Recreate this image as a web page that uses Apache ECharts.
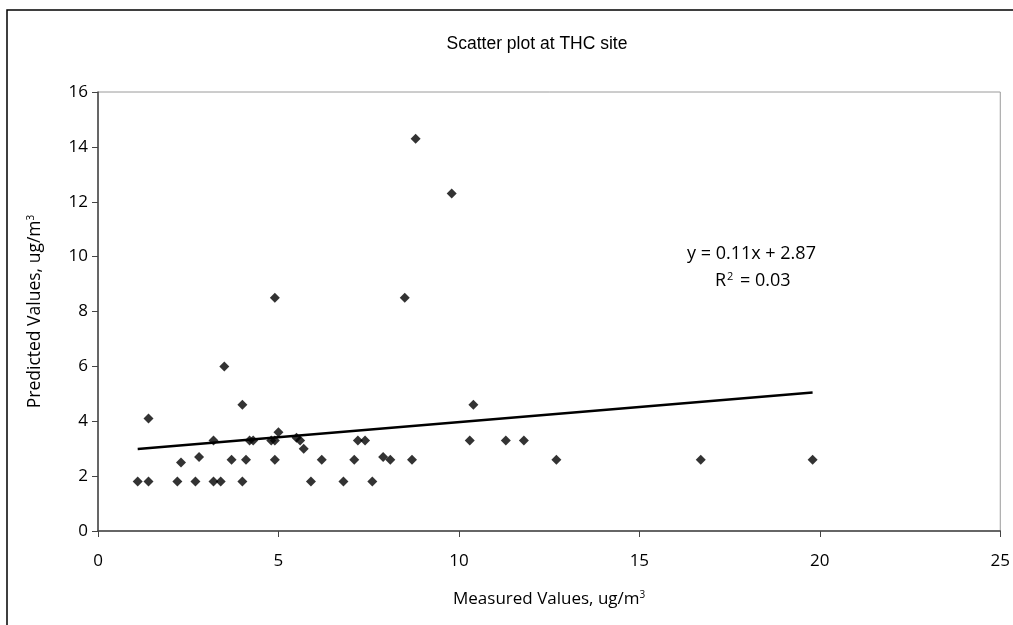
<!DOCTYPE html>
<html>
<head>
<meta charset="utf-8">
<title>Scatter plot at THC site</title>
<script src="https://cdn.jsdelivr.net/npm/echarts@6/dist/echarts.min.js"></script>
<style>
  html, body { margin: 0; padding: 0; background: #fff; overflow: hidden; }
  #chart { width: 1013px; height: 625px; }
</style>
</head>
<body>
<div id="chart"></div>
<script>
// Measured vs predicted THC concentrations (ug/m3)
const measured = [
  1.1, 1.4, 1.4, 2.2, 2.3, 2.7, 2.8, 3.2, 3.2, 3.4,
  3.5, 3.7, 4.0, 4.0, 4.1, 4.2, 4.3, 4.8, 4.9, 4.9,
  4.9, 5.0, 5.5, 5.6, 5.7, 5.9, 6.2, 6.8, 7.1, 7.2,
  7.4, 7.6, 7.9, 8.1, 8.5, 8.7, 8.8, 9.8, 10.3, 10.4,
  11.3, 11.8, 12.7, 16.7, 19.8
];
const predicted = [
  1.8, 1.8, 4.1, 1.8, 2.5, 1.8, 2.7, 3.3, 1.8, 1.8,
  6.0, 2.6, 4.6, 1.8, 2.6, 3.3, 3.3, 3.3, 3.3, 2.6,
  8.5, 3.6, 3.4, 3.3, 3.0, 1.8, 2.6, 1.8, 2.6, 3.3,
  3.3, 1.8, 2.7, 2.6, 8.5, 2.6, 14.3, 12.3, 3.3, 4.6,
  3.3, 3.3, 2.6, 2.6, 2.6
];

// Linear fit reported for the data
const slope = 0.11;
const intercept = 2.87;
const rSquared = 0.03;

const xTicks = [0, 5, 10, 15, 20, 25];
const yTicks = [0, 2, 4, 6, 8, 10, 12, 14, 16];

const points = measured.map((x, i) => [x, predicted[i]]);
const xMin = Math.min(...measured);
const xMax = Math.max(...measured);
const trend = [xMin, xMax].map(x => [x, slope * x + intercept]);

const labelFont = '"Open Sans", "Noto Sans", sans-serif';

const chart = echarts.init(document.getElementById('chart'), null, { renderer: 'canvas' });

chart.setOption({
  animation: false,
  backgroundColor: '#ffffff',
  title: {
    text: 'Scatter plot at THC site',
    left: 532,
    top: 30,
    textAlign: 'center',
    textStyle: {
      fontFamily: '"Liberation Sans", Arial, sans-serif',
      fontSize: 17.5,
      fontWeight: 'normal',
      color: '#000'
    }
  },
  grid: {
    left: 98,
    right: 11,
    top: 92,
    bottom: 94,
    show: true,
    borderColor: '#9a9a9a',
    borderWidth: 1
  },
  xAxis: {
    type: 'value',
    min: xTicks[0],
    max: xTicks[xTicks.length - 1],
    interval: 5,
    name: '{n|Measured Values, ug/m}{s|3}',
    nameLocation: 'middle',
    nameGap: 59,
    nameTextStyle: {
      rich: {
        n: { fontFamily: labelFont, fontSize: 17, color: '#000' },
        s: { fontFamily: labelFont, fontSize: 10, color: '#000', verticalAlign: 'top', padding: [0, 0, 9, 0] }
      }
    },
    axisLine: { show: true, onZero: false, lineStyle: { color: '#444', width: 1.5 } },
    axisTick: { show: true, inside: false, length: 6, lineStyle: { color: '#444' } },
    axisLabel: {
      margin: 22,
      fontFamily: labelFont,
      fontSize: 17,
      color: '#000',
      customValues: xTicks
    },
    splitLine: { show: false }
  },
  yAxis: {
    type: 'value',
    min: yTicks[0],
    max: yTicks[yTicks.length - 1],
    interval: 2,
    name: '{n|Predicted Values, ug/m}{s|3}',
    nameLocation: 'middle',
    nameGap: 53,
    nameRotate: 90,
    nameTextStyle: {
      rich: {
        n: { fontFamily: labelFont, fontSize: 17.5, color: '#000' },
        s: { fontFamily: labelFont, fontSize: 10, color: '#000', verticalAlign: 'top', padding: [0, 0, 9, 0] }
      }
    },
    axisLine: { show: true, onZero: false, lineStyle: { color: '#444', width: 1.5 } },
    axisTick: { show: true, inside: false, length: 6, lineStyle: { color: '#444' } },
    axisLabel: {
      margin: 10,
      fontFamily: labelFont,
      fontSize: 17,
      color: '#000'
    },
    splitLine: { show: false }
  },
  series: [
    {
      name: 'Observations',
      type: 'scatter',
      data: points,
      symbol: 'diamond',
      symbolSize: 10,
      itemStyle: { color: '#000' },
      z: 3
    },
    {
      name: 'Linear fit',
      type: 'line',
      data: trend,
      symbol: 'none',
      lineStyle: { color: '#000', width: 2.5 },
      z: 2,
      silent: true
    }
  ],
  graphic: [
    {
      type: 'rect',
      shape: { x: 7, y: 10, width: 1100, height: 700 },
      style: { fill: 'none', stroke: '#000', lineWidth: 1.5 },
      silent: true,
      z: -1
    },
    {
      type: 'text',
      left: 687,
      top: 245,
      style: {
        text: 'y = ' + slope.toFixed(2) + 'x + ' + intercept.toFixed(2),
        font: '18px ' + labelFont,
        fill: '#000'
      }
    },
    {
      type: 'text',
      left: 715,
      top: 271,
      style: {
        text: '{n|R}{s|2}{n| = ' + rSquared.toFixed(2) + '}',
        rich: {
          n: { fontFamily: labelFont, fontSize: 18, fill: '#000' },
          s: { fontFamily: labelFont, fontSize: 11, fill: '#000', verticalAlign: 'top', padding: [0, 2, 9, 1] }
        }
      }
    }
  ]
});
</script>
</body>
</html>
